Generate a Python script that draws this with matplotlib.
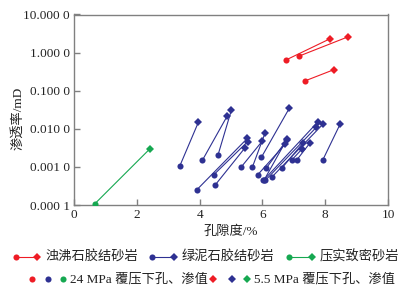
import matplotlib
matplotlib.use('Agg')
import matplotlib.pyplot as plt
from matplotlib.lines import Line2D
from matplotlib.ticker import FixedLocator, FixedFormatter

plt.rcParams['font.family'] = ['Liberation Serif', 'Noto Sans CJK SC']
plt.rcParams['font.size'] = 9.5

# porosity (%) / permeability (mD): first point at 24 MPa, second at 5.5 MPa
red_phi_24 = [6.75, 7.17, 7.35]
red_k_24 = [0.64, 0.81, 0.18]
red_phi_55 = [8.15, 8.73, 8.29]
red_k_55 = [2.3, 2.6, 0.36]

blue_phi_24 = [3.37, 4.09, 4.59, 3.91, 4.45, 4.49, 5.32, 5.68, 5.97, 5.85,
               6.12, 6.06, 6.03, 6.09, 6.31, 6.62, 6.93, 7.09, 7.92]
blue_k_24 = [0.00106, 0.0015, 0.0021, 0.00025, 0.00062, 0.00033, 0.00098, 0.00098, 0.0018, 0.00062,
             0.00092, 0.00046, 0.00044, 0.00044, 0.00055, 0.00093, 0.0015, 0.0015, 0.0015]
blue_phi_55 = [3.96, 4.88, 5.01, 5.52, 5.53, 5.45, 6.00, 6.08, 6.86, 6.73,
               6.77, 6.79, 7.76, 7.72, 7.92, 7.30, 7.27, 7.52, 8.47]
blue_k_55 = [0.0148, 0.0217, 0.0305, 0.0056, 0.0046, 0.0032, 0.0048, 0.0076, 0.035, 0.0040,
             0.0050, 0.0055, 0.015, 0.011, 0.013, 0.0043, 0.0030, 0.0043, 0.013]

green_phi_24 = [0.66]
green_k_24 = [0.000107]
green_phi_55 = [2.42]
green_k_55 = [0.0030]

y_ticks = [0.0001, 0.001, 0.01, 0.1, 1, 10]
y_labels = ['0.000 1', '0.001 0', '0.010 0', '0.100 0', '1.000 0', '10.000 0']
x_ticks = [0, 2, 4, 6, 8, 10]

legend_names = ['浊沸石胶结砂岩', '绿泥石胶结砂岩', '压实致密砂岩']
point_names = ['24 MPa 覆压下孔、渗值', '5.5 MPa 覆压下孔、渗值']

c_red = '#ee1c25'
c_blue = '#2e3192'
c_green = '#16a851'

W, H = 405, 296
fig = plt.figure(figsize=(W / 100, H / 100), dpi=100)
ax = fig.add_axes([74 / W, 1 - 205 / H, 314 / W, 190.5 / H])

groups = [(red_phi_24, red_k_24, red_phi_55, red_k_55, c_red),
          (blue_phi_24, blue_k_24, blue_phi_55, blue_k_55, c_blue),
          (green_phi_24, green_k_24, green_phi_55, green_k_55, c_green)]
for p1, k1, p2, k2, c in groups:
    for i in range(len(p1)):
        ax.plot([p1[i], p2[i]], [k1[i], k2[i]], color=c, lw=0.8, zorder=2)
    ax.plot(p1, k1, 'o', color=c, ms=4.4, mew=0, zorder=3)
    ax.plot(p2, k2, 'D', color=c, ms=3.8, mew=0, zorder=3)

ax.set_yscale('log')
ax.set_xlim(0, 10)
ax.set_ylim(0.0001, 10)
ax.yaxis.set_major_locator(FixedLocator(y_ticks))
ax.yaxis.set_major_formatter(FixedFormatter(y_labels))
ax.yaxis.set_minor_locator(FixedLocator([]))
ax.set_xticks(x_ticks)
ax.tick_params(direction='in', length=4, width=1, color='#808080', pad=3, labelcolor='#222222')
for s in ax.spines.values():
    s.set_color('#808080')
    s.set_linewidth(1)
ax.set_xlabel('孔隙度/%', labelpad=3, color='#222222')
ax.set_ylabel('渗透率/mD', color='#222222')
ax.yaxis.set_label_coords(-0.159, 0.457)


# legend drawn by hand below the axes (pixel positions)
def fx(px):
    return px / W


def fy(py):
    return 1 - py / H


row1 = 257
cols = [(c_red, 16, 37), (c_blue, 152, 174), (c_green, 289, 312)]
for (c, x0, x1), name in zip(cols, legend_names):
    fig.add_artist(Line2D([fx(x0), fx(x1)], [fy(row1), fy(row1)], color=c, lw=0.8))
    fig.add_artist(Line2D([fx(x0)], [fy(row1)], marker='o', color=c, ms=4.4, mew=0))
    fig.add_artist(Line2D([fx(x1)], [fy(row1)], marker='D', color=c, ms=3.8, mew=0))
    fig.text(fx(x1 + 8), fy(row1), name, va='center', ha='left', color='#222222')

row2 = 279
for c, x in zip([c_red, c_blue, c_green], [32, 48, 63]):
    fig.add_artist(Line2D([fx(x)], [fy(row2)], marker='o', color=c, ms=4.4, mew=0))
fig.text(fx(70), fy(row2), point_names[0], va='center', ha='left', color='#222222')
for c, x in zip([c_red, c_blue, c_green], [213, 232, 247]):
    fig.add_artist(Line2D([fx(x)], [fy(row2)], marker='D', color=c, ms=3.8, mew=0))
fig.text(fx(254), fy(row2), point_names[1], va='center', ha='left', color='#222222')

fig.savefig('out.png', dpi=100)
